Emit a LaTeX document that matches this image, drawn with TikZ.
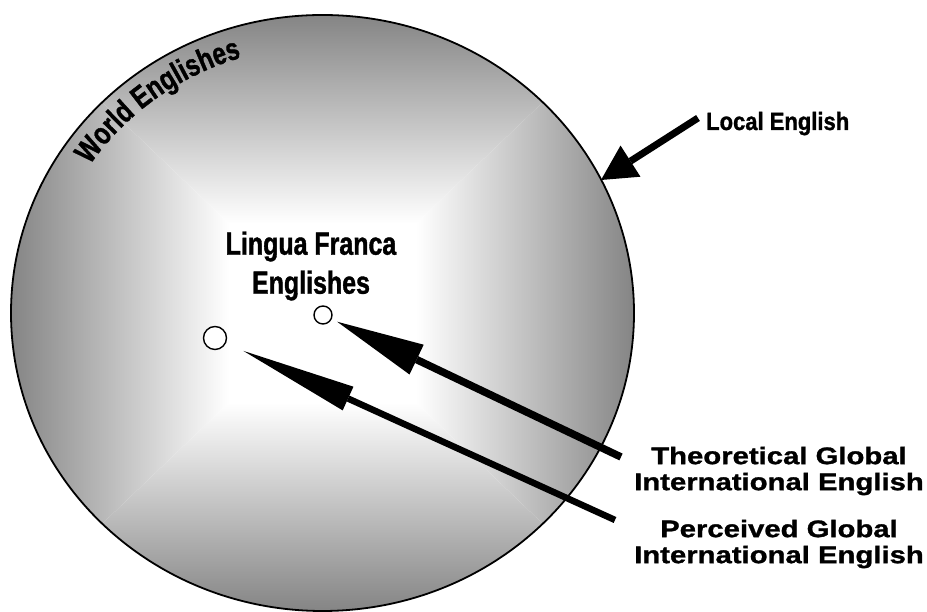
\documentclass[tikz,border=0pt]{standalone}
\usepackage{fontspec}
\setmainfont{Liberation Sans}
\newfontfamily\narrowsans{Liberation Sans}[FakeStretch=0.78, FakeBold=1.2]
\newfontfamily\localsans{Liberation Sans}[FakeStretch=0.88, FakeBold=1.2]
\newfontfamily\widesans{Liberation Sans}[FakeStretch=1.22, FakeBold=1.2]
\usetikzlibrary{arrows.meta, decorations.text}
\definecolor{wegray}{gray}{0.52}
\pgfdeclareverticalshading{fadeup}{100bp}{color(0bp)=(white); color(40bp)=(white); color(75bp)=(wegray); color(100bp)=(wegray)}
\pgfdeclareverticalshading{fadedown}{100bp}{color(0bp)=(wegray); color(25bp)=(wegray); color(60bp)=(white); color(100bp)=(white)}
\pgfdeclarehorizontalshading{fadeleft}{100bp}{color(0bp)=(wegray); color(25bp)=(wegray); color(60bp)=(white); color(100bp)=(white)}
\pgfdeclarehorizontalshading{faderight}{100bp}{color(0bp)=(white); color(40bp)=(white); color(75bp)=(wegray); color(100bp)=(wegray)}
\begin{document}
\begin{tikzpicture}[x=1pt, y=1pt,
  dot/.style={circle, draw, line width=1.4pt, fill=white, inner sep=0pt},
  wetext/.style={inner sep=0pt, align=center}]
\useasboundingbox (0,0) rectangle (927,612);
\coordinate (c) at (322.5,299);
% the shaded disc
\begin{scope}
\clip (c) ellipse [x radius=311.5, y radius=298];
\shade[shading=fadeup] (11,597) -- (634,597) -- (c) -- cycle;
\shade[shading=fadedown] (11,1) -- (634,1) -- (c) -- cycle;
\shade[shading=fadeleft] (11,1) -- (11,597) -- (c) -- cycle;
\shade[shading=faderight] (634,1) -- (634,597) -- (c) -- cycle;
\end{scope}
\draw[line width=1.8pt] (c) ellipse [x radius=311.5, y radius=298];
\coordinate (westart) at (90,447);
\path[decorate, decoration={text along path,
  text={|\narrowsans\bfseries\fontsize{31}{31}\selectfont|World Englishes}}]
  (westart) arc [start angle=146.5, end angle=102, x radius=280, y radius=266];
\node[wetext, font=\narrowsans\bfseries\fontsize{32}{39}\selectfont] (lfe) at (311,346) {Lingua Franca\\Englishes};
\node[wetext, anchor=base west, font=\localsans\bfseries\fontsize{25}{25}\selectfont] (le) at (706,482) {Local English};
\node[wetext, font=\widesans\bfseries\fontsize{24}{26}\selectfont] (tg) at (779,141) {Theoretical Global\\International English};
\node[wetext, font=\widesans\bfseries\fontsize{24}{26}\selectfont] (pg) at (779,68) {Perceived Global\\International English};
\node[dot, minimum size=18pt] (tgdot) at (323,297) {};
\node[dot, minimum size=23pt] (pgdot) at (215,274) {};
\coordinate (tgtail) at (621,155);
\coordinate (pgtail) at (615,92);
\coordinate (letail) at (698,494);
\coordinate (letip) at (601,432);
\draw[line width=7.5pt, -{Triangle[length=88pt, width=33pt, line width=0pt]}, shorten >=6pt] (tgtail) -- (tgdot);
\draw[line width=6.5pt, -{Triangle[length=115pt, width=26pt, line width=0pt]}, shorten >=19pt] (pgtail) -- (pgdot);
\draw[line width=7pt, -{Triangle[length=35pt, width=37pt, line width=0pt]}] (letail) -- (letip);
\end{tikzpicture}
\end{document}
